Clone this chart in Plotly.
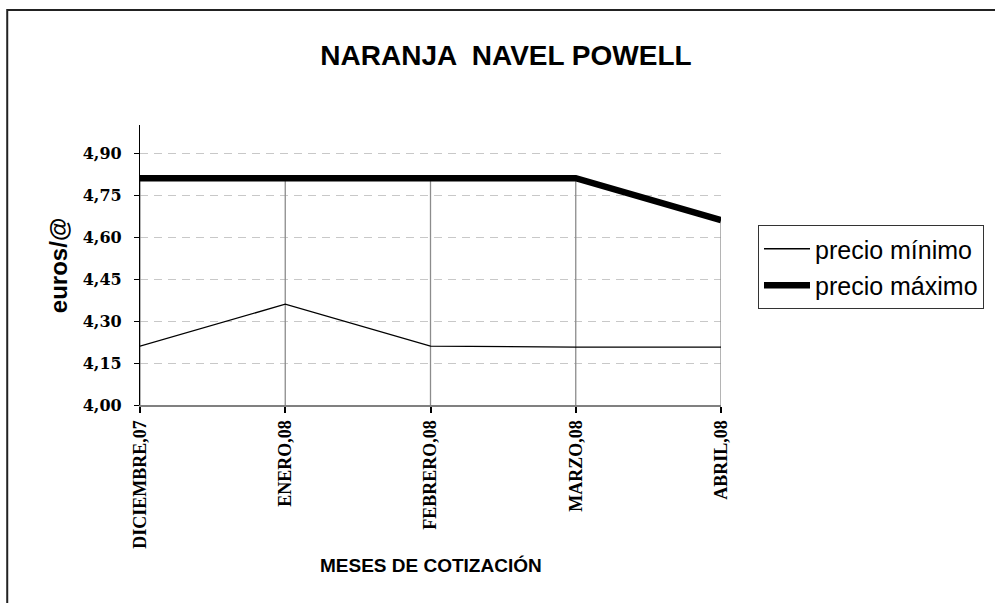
import plotly.graph_objects as go

meses = ["DICIEMBRE,07", "ENERO,08", "FEBRERO,08", "MARZO,08", "ABRIL,08"]
precio_minimo = [4.21, 4.36, 4.21, 4.207, 4.207]
precio_maximo = [4.81, 4.81, 4.81, 4.81, 4.66]
y_ticks = [4.00, 4.15, 4.30, 4.45, 4.60, 4.75, 4.90]
y_min, y_max = 4.00, 5.00

W, H = 995, 603
L, R, T, B = 140, 273, 125, 198
pw, ph = W - L - R, H - T - B

def px_x(px):
    return (px - L) / pw

def px_y(py):
    return (H - B - py) / ph

idx = list(range(len(meses)))
y_text = ["<b>" + f"{v:.2f}".replace(".", ",") + "</b>" for v in y_ticks]
x_text = ["<b>" + m + "</b>" for m in meses]

# drop lines from the maximum series down to the axis
dx, dy = [], []
for i, v in zip(idx, precio_maximo):
    dx += [i, i, None]
    dy += [y_min, v, None]

fig = go.Figure()
fig.add_trace(go.Scatter(x=dx, y=dy, mode="lines",
                         line=dict(color="#8c8c8c", width=1.3),
                         showlegend=False, hoverinfo="skip"))
fig.add_trace(go.Scatter(x=idx, y=precio_minimo, mode="lines", name="precio mínimo",
                         line=dict(color="black", width=1.3), legendgroup="a"))
fig.add_trace(go.Scatter(x=idx, y=precio_maximo, mode="lines", name="precio máximo",
                         line=dict(color="black", width=6.5), legendgroup="b"))

fig.update_layout(
    width=W, height=H,
    margin=dict(l=L, r=R, t=T, b=B, pad=0),
    paper_bgcolor="white", plot_bgcolor="white",
    hovermode=False,
    showlegend=True,
    legend=dict(x=px_x(758), y=px_y(225), xanchor="left", yanchor="top",
                bordercolor="#333", borderwidth=1,
                font=dict(family="Liberation Sans, Arial", size=25, color="black"),
                tracegroupgap=1, itemwidth=46),
    xaxis=dict(range=[0, len(meses) - 1], tickvals=idx, ticktext=x_text,
               tickangle=-90, showgrid=False, zeroline=False,
               showline=True, linecolor="#808080", linewidth=2,
               ticks="outside", ticklen=6, tickcolor="black", tickwidth=1.5,
               ticklabelstandoff=0,
               tickfont=dict(family="Liberation Serif, Times New Roman", size=18, color="black")),
    yaxis=dict(range=[y_min, y_max], tickvals=y_ticks, ticktext=y_text,
               showgrid=True, gridcolor="#c8c8c8", gridwidth=1, griddash="8px,6px",
               zeroline=False, showline=True, linecolor="black", linewidth=1.3,
               ticks="outside", ticklen=5, tickcolor="black",
               ticklabelstandoff=9,
               tickfont=dict(family="DejaVu Serif", size=16, color="black")),
    title=dict(text="<b>NARANJA  NAVEL POWELL</b>", x=506 / W, xanchor="center",
               y=1 - 55 / H, yanchor="middle", xref="container", yref="container",
               font=dict(family="Liberation Sans, Arial", size=28, color="black")),
)

fig.add_annotation(text="<b>euros/@</b>", xref="paper", yref="paper",
                   x=px_x(58), y=px_y(266), xanchor="center", yanchor="middle",
                   textangle=-90, showarrow=False,
                   font=dict(family="Liberation Sans, Arial", size=24, color="black"))
fig.add_annotation(text="<b>MESES DE COTIZACIÓN</b>", xref="paper", yref="paper",
                   x=px_x(431), y=px_y(565), xanchor="center", yanchor="middle",
                   showarrow=False,
                   font=dict(family="Liberation Sans, Arial", size=19, color="black"))

# outer chart frame (extends past the right/bottom edges of the picture)
fig.add_shape(type="rect", xref="paper", yref="paper",
              x0=px_x(7), x1=px_x(W + 20), y0=px_y(H + 20), y1=px_y(10),
              line=dict(color="#222", width=2), fillcolor="rgba(0,0,0,0)", layer="below")

fig.write_html("out.html", config={"displayModeBar": False},
               post_script="document.body.style.margin='0px';document.body.style.overflow='hidden';")
